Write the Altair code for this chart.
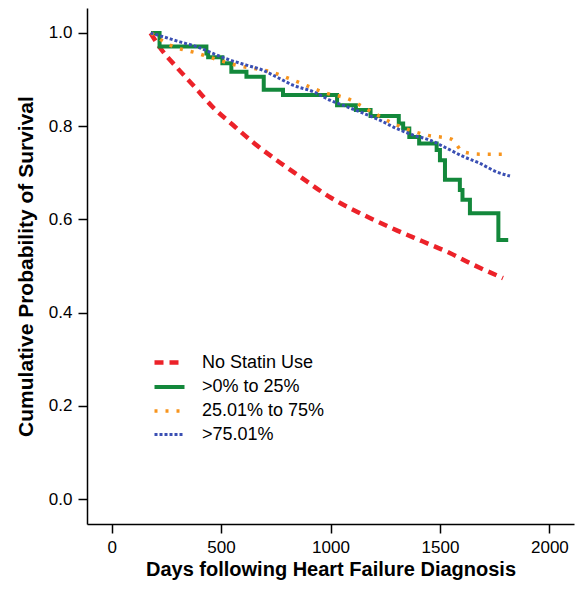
import altair as alt
import pandas as pd

series_names = ["No Statin Use", ">0% to 25%", "25.01% to 75%", ">75.01%"]
series_colors = ["#ec2229", "#13883b", "#f7941d", "#3a4fb3"]
series_dashes = [[9, 6], [1, 0], [3, 8], [3, 2]]
series_widths = [4.5, 3, 3.5, 3.5]

red_days = [178, 219, 300, 380, 460, 553, 650, 754, 860, 1000, 1180, 1300, 1420, 1545, 1651, 1788]
red_surv = [1.0, 0.970, 0.925, 0.884, 0.842, 0.803, 0.764, 0.727, 0.692, 0.647, 0.603, 0.577,
            0.553, 0.528, 0.503, 0.474]

green_days = [180, 219, 433, 441, 506, 547, 616, 695, 783, 1030, 1116, 1183, 1312, 1332, 1360, 1405,
              1485, 1500, 1523, 1591, 1603, 1637, 1767, 1812]
green_surv = [1.0, 0.971, 0.956, 0.948, 0.935, 0.917, 0.906, 0.878, 0.867, 0.845, 0.835, 0.822, 0.806,
              0.795, 0.777, 0.763, 0.749, 0.727, 0.685, 0.663, 0.642, 0.613, 0.556, 0.556]

orange_days = [181, 250, 395, 570, 738, 844, 981, 1073, 1195, 1286, 1439, 1553, 1606, 1683, 1786]
orange_surv = [1.0, 0.978, 0.956, 0.931, 0.915, 0.896, 0.871, 0.860, 0.829, 0.806, 0.781, 0.772,
               0.745, 0.740, 0.740]

blue_days = [178, 235, 311, 387, 463, 540, 616, 692, 760, 829, 921, 997, 1073, 1149, 1225, 1302, 1378,
             1454, 1530, 1606, 1683, 1759, 1820]
blue_surv = [1.0, 0.992, 0.981, 0.971, 0.956, 0.942, 0.931, 0.920, 0.904, 0.888, 0.874, 0.856, 0.842,
             0.828, 0.813, 0.795, 0.781, 0.770, 0.753, 0.735, 0.720, 0.702, 0.693]

x_ticks = [0, 500, 1000, 1500, 2000]
y_ticks = [0.0, 0.2, 0.4, 0.6, 0.8, 1.0]

rows = []
for name, days, surv in zip(series_names,
                            [red_days, green_days, orange_days, blue_days],
                            [red_surv, green_surv, orange_surv, blue_surv]):
    for d, s in zip(days, surv):
        rows.append({"series": name, "day": d, "surv": s})
df = pd.DataFrame(rows)

legend = alt.Legend(
    title=None, orient="none", legendX=70, legendY=342,
    symbolType="M-1.5,0L1.5,0", symbolSize=400, symbolStrokeWidth=3,
    labelFont="Liberation Sans", labelFontSize=18, labelColor="black",
    labelOffset=20, rowPadding=3, padding=0,
)

base = alt.Chart(df).encode(
    x=alt.X("day:Q", scale=alt.Scale(domain=[-112.5, 2112.5], nice=False, zero=False),
            axis=alt.Axis(values=x_ticks, title="Days following Heart Failure Diagnosis", format="d")),
    y=alt.Y("surv:Q", scale=alt.Scale(domain=[-0.0536, 1.0536], nice=False, zero=False),
            axis=alt.Axis(values=y_ticks, title="Cumulative Probability of Survival", format=".1f")),
    color=alt.Color("series:N", scale=alt.Scale(domain=series_names, range=series_colors), legend=legend),
    strokeDash=alt.StrokeDash("series:N", scale=alt.Scale(domain=series_names, range=series_dashes),
                              legend=legend),
    strokeWidth=alt.StrokeWidth("series:N", scale=alt.Scale(domain=series_names, range=series_widths),
                                legend=None),
)

layers = []
for name in series_names:
    interp = "step-after" if name == ">0% to 25%" else "monotone"
    layers.append(base.mark_line(interpolate=interp).transform_filter(alt.datum.series == name))

chart = alt.layer(*layers).properties(
    width=487, height=516,
    autosize=alt.AutoSizeParams(type="none"),
    padding={"left": 79, "top": 0, "right": 2, "bottom": 60},
).configure_view(stroke=None).configure_axis(
    grid=False, domainColor="black", domainWidth=1.5, tickColor="black", tickWidth=1.5, tickSize=9,
    labelFont="Liberation Sans", labelFontSize=17, labelColor="black", labelPadding=6,
    titleFont="Liberation Sans", titleFontSize=21, titleFontWeight="bold", titleColor="black",
).configure_axisX(labelPadding=6, titlePadding=4, titleFontSize=20).configure_axisY(titlePadding=12)

chart.save("out.html", embed_options={"renderer": "svg", "actions": False})
